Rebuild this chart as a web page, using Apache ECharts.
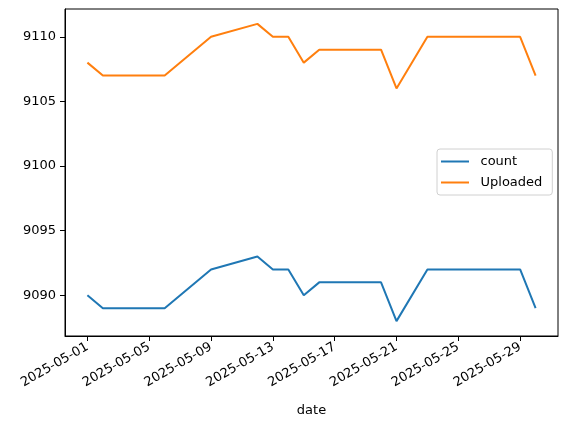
<!DOCTYPE html>
<html>
<head>
<meta charset="utf-8">
<script src="https://cdn.jsdelivr.net/npm/echarts@6/dist/echarts.min.js"></script>
<style>
  html, body { margin: 0; padding: 0; background: #fff; }
  #chart { width: 569px; height: 427px; }
</style>
</head>
<body>
<div id="chart"></div>
<script>
// values
const dates = ['2025-05-01', '2025-05-02', '2025-05-06', '2025-05-09', '2025-05-12', '2025-05-13', '2025-05-14',
  '2025-05-15', '2025-05-16', '2025-05-20', '2025-05-21', '2025-05-23', '2025-05-29', '2025-05-30'];
const count = [9090, 9089, 9089, 9092, 9093, 9092, 9092, 9090, 9091, 9091, 9088, 9092, 9092, 9089];
const uploaded = [9108, 9107, 9107, 9110, 9111, 9110, 9110, 9108, 9109, 9109, 9106, 9110, 9110, 9107];
const xTicks = ['2025-05-01', '2025-05-05', '2025-05-09', '2025-05-13', '2025-05-17', '2025-05-21', '2025-05-25', '2025-05-29'];
const yTicks = [9090, 9095, 9100, 9105, 9110];

const DAY = 86400000;
const toMs = s => Date.parse(s + 'T00:00:00Z');
const fmt = v => new Date(v).toISOString().slice(0, 10);

const xs = dates.map(toMs);
const xMin = xs[0] - 1.45 * DAY;
const xMax = xs[xs.length - 1] + 1.45 * DAY;

let chart = echarts.init(document.getElementById('chart'));
let font = 'DejaVu Sans';
let lineIcon = 'path://M0,0 L28,0 L28,2 L0,2 Z';
let option = {
  backgroundColor: '#fff',
  textStyle: { fontFamily: font },
  grid: {
    left: 65, right: 11, top: 9, bottom: 91,
    show: true, borderColor: '#000', borderWidth: 1
  },
  legend: {
    orient: 'vertical',
    left: 437, top: 149,
    data: [{ name: 'count', icon: lineIcon }, { name: 'Uploaded', icon: lineIcon }],
    itemWidth: 29, itemHeight: 2, itemGap: 8,
    borderColor: '#d0d0d0', borderWidth: 1, borderRadius: 3,
    padding: [6, 10, 6, 4],
    backgroundColor: '#fff',
    textStyle: { fontFamily: font, fontSize: 13, color: '#000', padding: [0, 0, 0, 6], lineHeight: 13 }
  },
  xAxis: {
    type: 'value',
    min: xMin, max: xMax,
    name: 'date', nameLocation: 'middle', nameGap: 68,
    nameTextStyle: { fontFamily: font, fontSize: 13, color: '#000' },
    splitLine: { show: false },
    axisLine: { lineStyle: { color: '#000' } },
    axisTick: { customValues: xTicks.map(toMs), length: 5, lineStyle: { color: '#000' } },
    axisLabel: {
      customValues: xTicks.map(toMs),
      formatter: v => '{d|' + fmt(v) + '}',
      rotate: 30, margin: 10,
      overflow: 'none', hideOverlap: false,
      rich: { d: { fontFamily: font, fontSize: 13, color: '#000' } }
    }
  },
  yAxis: {
    type: 'value',
    min: 9086.85, max: 9112.15,
    splitLine: { show: false },
    axisLine: { show: true, lineStyle: { color: '#000' } },
    axisTick: { show: true, customValues: yTicks, length: 5, lineStyle: { color: '#000' } },
    axisLabel: { customValues: yTicks, formatter: v => String(v), margin: 9, fontFamily: font, fontSize: 13, color: '#000' }
  },
  series: [
    {
      name: 'count', type: 'line', symbol: 'none',
      data: xs.map((x, i) => [x, count[i]]),
      lineStyle: { width: 2, color: '#1f77b4' }, itemStyle: { color: '#1f77b4' }
    },
    {
      name: 'Uploaded', type: 'line', symbol: 'none',
      data: xs.map((x, i) => [x, uploaded[i]]),
      lineStyle: { width: 2, color: '#ff7f0e' }, itemStyle: { color: '#ff7f0e' }
    }
  ],
  animation: false
};
option && chart.setOption(option);
</script>
</body>
</html>
